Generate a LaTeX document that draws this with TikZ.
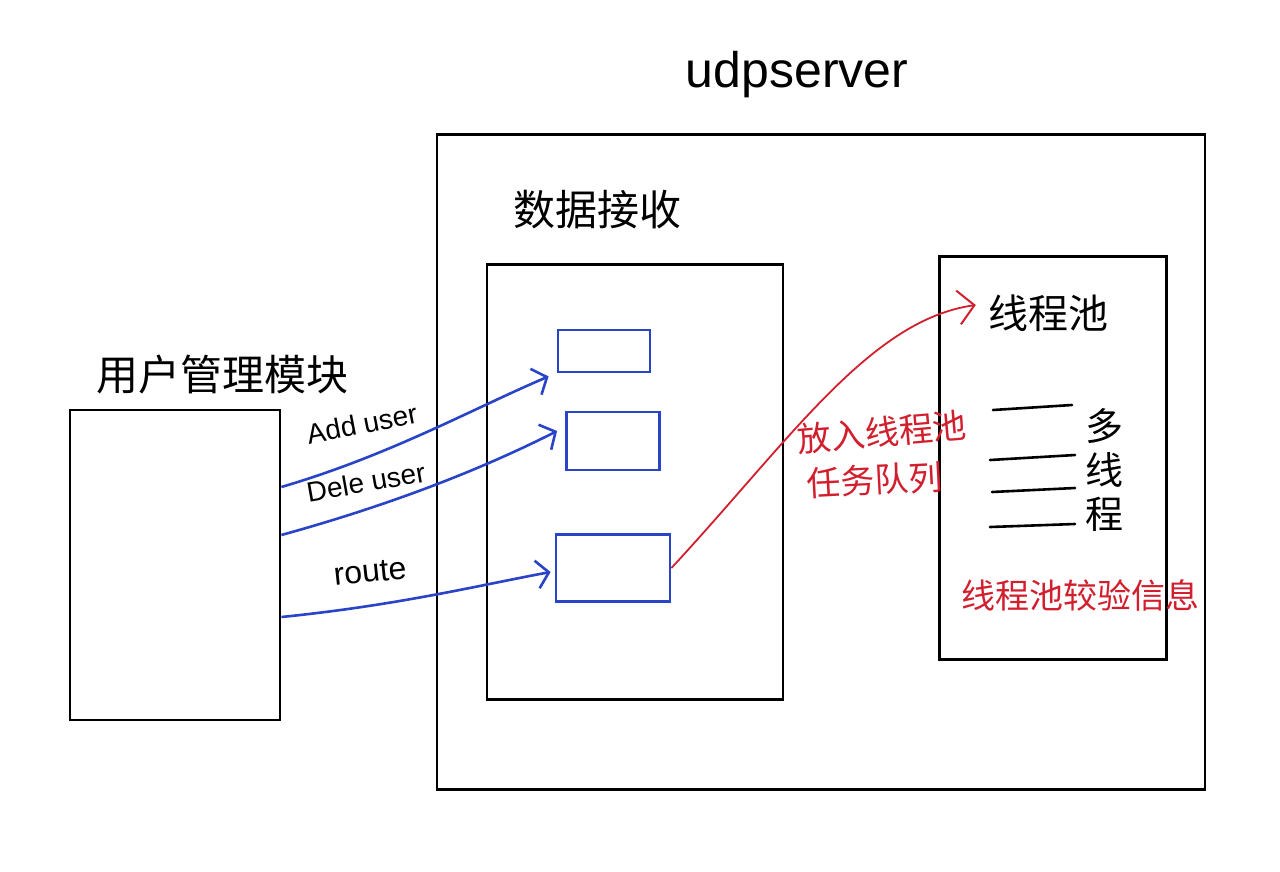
\documentclass[tikz,border=0pt]{standalone}
\usepackage{fontspec}
\setmainfont{Liberation Sans}
\newfontfamily\cjk{Noto Sans CJK SC}
\usetikzlibrary{arrows.meta,calc}
\definecolor{blueink}{HTML}{2A44C8}
\definecolor{redink}{HTML}{D21F2E}
\begin{document}
\begin{tikzpicture}[x=1pt,y=-1pt,
  box/.style={draw, line width=2.8pt, inner sep=0pt},
  bbox/.style={draw=blueink, line width=2.8pt, inner sep=0pt},
  barrow/.style={draw=blueink, line width=2.6pt, -{Straight Barb[length=12pt,width=28pt,line width=2.6pt]}},
  rarrow/.style={draw=redink, line width=1.8pt, -{Straight Barb[length=16pt,width=34pt,line width=2pt]}},
  lbl/.style={inner sep=0pt, font=\cjk\fontsize{42}{48}\selectfont},
  elbl/.style={inner sep=0pt, font=\fontsize{28}{32}\selectfont},
  rlbl/.style={inner sep=0pt, text=redink, font=\cjk\fontsize{34}{44}\selectfont, align=center},
  tline/.style={line width=2.6pt, line cap=round}
]
\useasboundingbox (0,0) rectangle (1280,871);
\fill[white] (0,0) rectangle (1280,871);

% outer boxes
\node[box, minimum width=210, minimum height=310] (um) at (175,565) {};
\node[box, minimum width=768, minimum height=655] (srv) at (821,462) {};
\node[box, minimum width=296, minimum height=435] (rcv) at (635,482) {};
\node[box, minimum width=227, minimum height=403] (pool) at (1053,458) {};

% titles
\node[inner sep=0pt, font=\fontsize{50}{56}\selectfont] (srvt) at (797,75) {udpserver};
\node[lbl] (rcvt) at (597,210) {数据接收};
\node[lbl] (umt) at (222,375) {用户管理模块};
\node[lbl, font=\cjk\fontsize{40}{46}\selectfont] (poolt) at (1048,313) {线程池};

% small blue boxes
\node[bbox, minimum width=92, minimum height=42] (b1) at (604,351) {};
\node[bbox, minimum width=93, minimum height=58] (b2) at (613,441) {};
\node[bbox, minimum width=114, minimum height=67] (b3) at (613,568) {};

% blue arrows
\coordinate (s1) at (um.east |- 0,487);
\coordinate (s2) at (um.east |- 0,535);
\coordinate (s3) at (um.east |- 0,617);
\coordinate (e1) at ($(b1.south west)+(-8,3)$);
\coordinate (e2) at ($(b2.west)+(-8,-10)$);
\coordinate (e3) at ($(b3.west)+(-4,4)$);
\draw[barrow] (s1) .. controls (390,455) and (470,410) .. (e1);
\draw[barrow] (s2) .. controls (390,505) and (480,470) .. (e2);
\draw[barrow] (s3) .. controls (400,605) and (480,585) .. (e3);

\node[elbl, rotate=11] (l1) at (362,424) {Add user};
\node[elbl, rotate=10] (l2) at (366,482) {Dele user};
\node[elbl, rotate=6, font=\fontsize{32}{36}\selectfont] (l3) at (370,572) {route};

% red arrow
\coordinate (rt) at ($(poolt.west)+(-12,-8)$);
\draw[rarrow] (b3.east) .. controls (790,440) and (870,320) .. (rt);
\node[rlbl, rotate=5] (rl1) at (882,432) {放入线程池};
\node[rlbl, rotate=3] (rl2) at (875,480) {任务队列};

% thread lines
\draw[tline] (993,410) -- (1072,405);
\draw[tline] (990,460) -- (1075,455);
\draw[tline] (992,492) -- (1075,488);
\draw[tline] (990,527) -- (1075,524);
\node[inner sep=0pt, font=\cjk\fontsize{38}{44}\selectfont, align=center] (mt) at (1104,470) {多\\线\\程};

\node[rlbl] (info) at (1080,595) {线程池较验信息};
\end{tikzpicture}
\end{document}
